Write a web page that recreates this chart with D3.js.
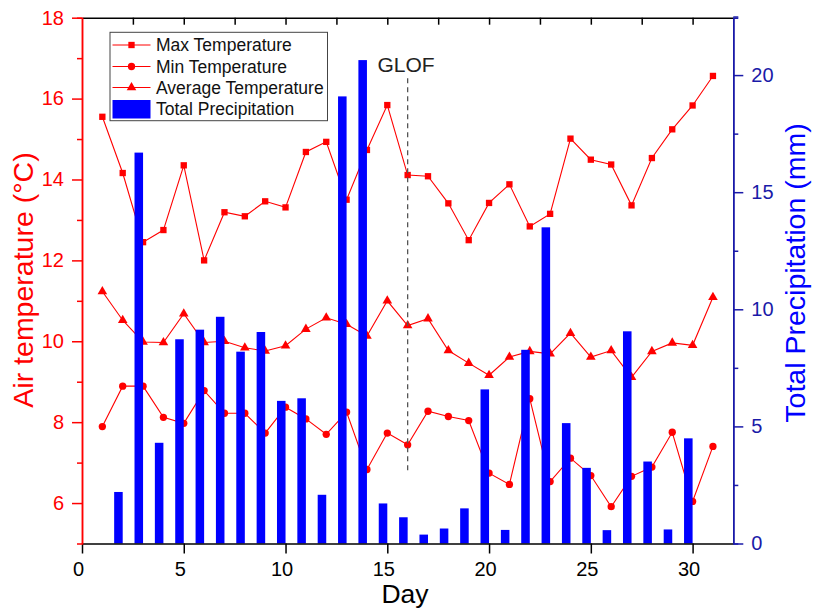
<!DOCTYPE html>
<html>
<head>
<meta charset="utf-8">
<script src="https://cdn.jsdelivr.net/npm/d3@7"></script>
<style>
    body { margin: 0; background: white; }
    text { font-family: "Liberation Sans", Arial, sans-serif; }
</style>
</head>
<body>
<div id="chart"></div>
<script>
// daily values
const days = d3.range(1, 32);
const maxTemp = [15.55, 14.16, 12.45, 12.75, 14.35, 12.0, 13.19, 13.09, 13.46, 13.31,
    14.68, 14.93, 13.5, 14.73, 15.84, 14.11, 14.08, 13.41, 12.5, 13.42,
    13.88, 12.84, 13.15, 15.01, 14.49, 14.37, 13.36, 14.53, 15.24, 15.83, 16.56];
const minTemp = [7.89, 8.89, 8.89, 8.12, 7.97, 8.78, 8.22, 8.22, 7.73, 8.37,
    8.08, 7.70, 8.25, 6.83, 7.73, 7.44, 8.27, 8.14, 8.04, 6.74,
    6.46, 8.58, 6.53, 7.11, 6.68, 5.91, 6.66, 6.89, 7.75, 6.04, 7.40];
const avgTemp = [11.23, 10.52, 9.98, 9.97, 10.68, 9.97, 10.0, 9.84, 9.76, 9.89,
    10.3, 10.58, 10.42, 10.13, 11.0, 10.39, 10.56, 9.77, 9.46, 9.16,
    9.61, 9.75, 9.69, 10.2, 9.61, 9.77, 9.11, 9.75, 9.96, 9.9, 11.09];
const precip = [0, 2.2, 16.69, 4.3, 8.72, 9.13, 9.68, 8.19, 9.03, 6.09,
    6.2, 2.08, 19.09, 20.64, 1.71, 1.12, 0.38, 0.64, 1.5, 6.58,
    0.58, 8.27, 13.5, 5.14, 3.23, 0.57, 9.06, 3.5, 0.6, 4.49, 0];

// tick values
const dayTicks = [0, 5, 10, 15, 20, 25, 30];
const topTicks = d3.range(2.5, 31, 2.5);
const tempTicks = [6, 8, 10, 12, 14, 16, 18];
const tempMinor = [7, 9, 11, 13, 15, 17];
const precipTicks = [0, 5, 10, 15, 20];
const precipMinor = [2.5, 7.5, 12.5, 17.5, 22.5];

// GLOF marker
const glofDay = 16;
const glofRange = [16.5, 6.8];

const seriesNames = ["Max Temperature", "Min Temperature", "Average Temperature", "Total Precipitation"];

// formatting parameters
const width = 813;
const height = 609;
const red = "#ff0000";
const blue = "#0000ff";
const navy = "#1a1aa8";

const svg = d3.select("#chart")
    .append("svg")
    .attr("width", width)
    .attr("height", height);

// scales
const x = d3.scaleLinear().domain([0, 32]).range([82, 733.3]);
const yL = d3.scaleLinear().domain([5, 18]).range([543.5, 17.7]);
const yR = d3.scaleLinear().domain([0, 22.45]).range([543.5, 17.7]);

// temperature lines go under the bars
const series = [
    { name: seriesNames[0], values: maxTemp, shape: d3.symbolSquare, size: 40 },
    { name: seriesNames[1], values: minTemp, shape: d3.symbolCircle, size: 42 },
    { name: seriesNames[2], values: avgTemp, shape: d3.symbolTriangle, size: 40 }
];

const line = d3.line()
    .x((d, i) => x(days[i]))
    .y(d => yL(d));

const lines = svg.append("g");
series.forEach(s => {
    lines.append("path")
        .attr("d", line(s.values))
        .attr("fill", "none")
        .attr("stroke", red)
        .attr("stroke-width", 1.1);
    lines.selectAll(null)
        .data(s.values)
        .enter()
        .append("path")
        .attr("transform", (d, i) => `translate(${x(days[i])},${yL(d)})`)
        .attr("d", d3.symbol().type(s.shape).size(s.size))
        .attr("fill", red);
});

// precipitation bars, right edge sits on the day
svg.append("g")
    .selectAll("rect")
    .data(precip)
    .enter()
    .append("rect")
    .attr("x", (d, i) => x(days[i] - 0.42))
    .attr("y", d => yR(d))
    .attr("width", (d, i) => x(days[i]) - x(days[i] - 0.42))
    .attr("height", d => yR(0) - yR(d))
    .attr("fill", blue);

// GLOF dashed line
svg.append("line")
    .attr("x1", x(glofDay))
    .attr("x2", x(glofDay))
    .attr("y1", yL(glofRange[0]))
    .attr("y2", yL(glofRange[1]))
    .attr("stroke", "#555")
    .attr("stroke-width", 1.3)
    .attr("stroke-dasharray", "5,4");

svg.append("text")
    .attr("x", 377.5)
    .attr("y", 72)
    .text("GLOF")
    .style("font-size", "21px")
    .attr("fill", "#222");

// axes
function styleAxis(g, color) {
    g.select(".domain").attr("stroke", color).attr("stroke-width", 1.5);
    g.selectAll(".tick line").attr("stroke", color).attr("stroke-width", 1.5);
    g.selectAll(".tick text").attr("fill", color).style("font-size", "20px")
        .style("font-family", "'Liberation Sans', Arial, sans-serif");
}

// bottom
const xAxis = svg.append("g")
    .attr("transform", `translate(0,${yL(5)})`)
    .call(d3.axisBottom(x).tickValues(dayTicks).tickSize(10).tickPadding(8).tickSizeOuter(0));
styleAxis(xAxis, "#000");
xAxis.selectAll(".tick text").attr("dx", -4);

// top
const topAxis = svg.append("g")
    .attr("transform", `translate(0,${yL(18)})`)
    .call(d3.axisTop(x).tickValues(topTicks).tickSize(-7).tickFormat("").tickSizeOuter(0));
styleAxis(topAxis, "#000");

// left
const leftAxis = svg.append("g")
    .attr("transform", `translate(${x(0)},0)`)
    .call(d3.axisLeft(yL).tickValues(tempTicks).tickSize(10).tickPadding(8).tickSizeOuter(0));
styleAxis(leftAxis, red);
const leftMinor = svg.append("g")
    .attr("transform", `translate(${x(0)},0)`)
    .call(d3.axisLeft(yL).tickValues(tempMinor).tickSize(5).tickFormat(""));
styleAxis(leftMinor, red);

// right
const rightAxis = svg.append("g")
    .attr("transform", `translate(${x(32)},0)`)
    .call(d3.axisRight(yR).tickValues(precipTicks).tickSize(10).tickPadding(8).tickSizeOuter(0));
styleAxis(rightAxis, navy);
const rightMinor = svg.append("g")
    .attr("transform", `translate(${x(32)},0)`)
    .call(d3.axisRight(yR).tickValues(precipMinor).tickSize(5).tickFormat(""));
styleAxis(rightMinor, navy);

// axis titles
svg.append("text")
    .attr("transform", "translate(33,280) rotate(-90)")
    .style("text-anchor", "middle")
    .style("font-size", "28.5px")
    .attr("fill", red)
    .text("Air temperature (\u00B0C)");

svg.append("text")
    .attr("transform", "translate(805,273) rotate(-90)")
    .style("text-anchor", "middle")
    .style("font-size", "28.5px")
    .attr("fill", blue)
    .text("Total Precipitation (mm)");

svg.append("text")
    .attr("x", 405)
    .attr("y", 603)
    .style("text-anchor", "middle")
    .style("font-size", "26.5px")
    .attr("fill", "#000")
    .text("Day");

// legend
const legend = svg.append("g");
legend.append("rect")
    .attr("x", 110)
    .attr("y", 32.3)
    .attr("width", 217.5)
    .attr("height", 88.4)
    .attr("fill", "white")
    .attr("stroke", "#444")
    .attr("stroke-width", 1);

const rowY = [45, 66.5, 87.5, 109];
series.forEach((s, i) => {
    legend.append("line")
        .attr("x1", 112.5).attr("x2", 150.5)
        .attr("y1", rowY[i]).attr("y2", rowY[i])
        .attr("stroke", red).attr("stroke-width", 1);
    legend.append("path")
        .attr("transform", `translate(131.5,${rowY[i]})`)
        .attr("d", d3.symbol().type(s.shape).size(s.size))
        .attr("fill", red);
});
legend.append("rect")
    .attr("x", 112.5).attr("y", 100)
    .attr("width", 38).attr("height", 18.5)
    .attr("fill", blue);

legend.selectAll("text.lab")
    .data(seriesNames)
    .enter()
    .append("text")
    .attr("class", "lab")
    .attr("x", 156)
    .attr("y", (d, i) => rowY[i] + 6)
    .style("font-size", "17.5px")
    .attr("fill", "#111")
    .text(d => d);
</script>
</body>
</html>
